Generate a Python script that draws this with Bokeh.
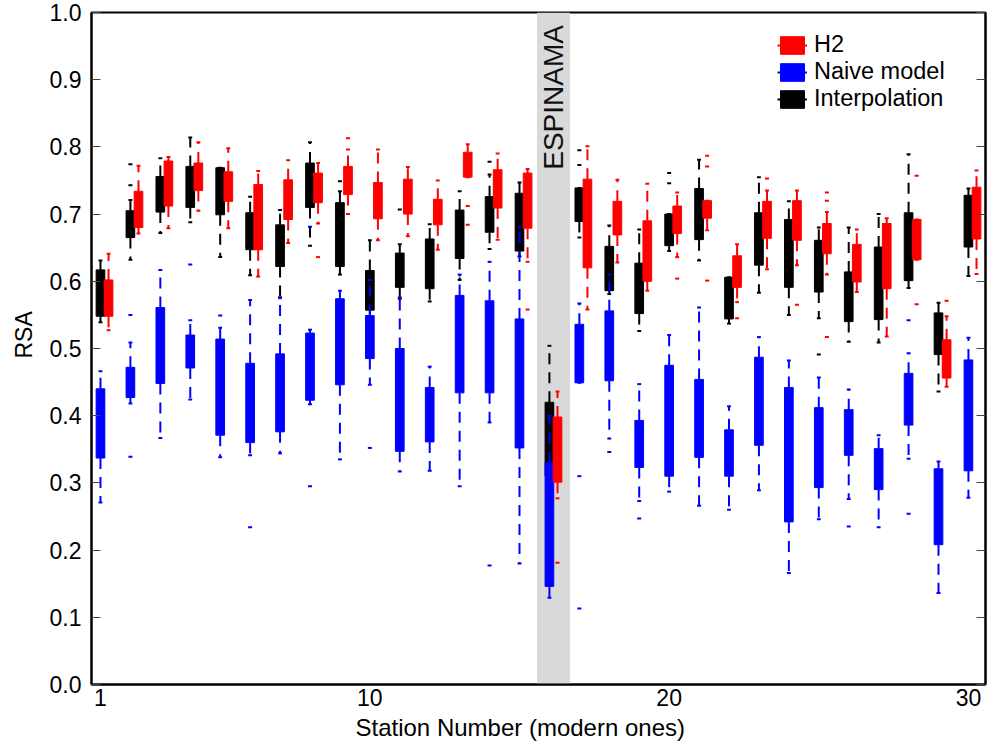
from math import pi
from bokeh.plotting import figure
from bokeh.models import (ColumnDataSource, FixedTicker, LinearAxis, Range1d, BoxAnnotation,
                          Legend, LegendItem, Title, PrintfTickFormatter, CustomJSTickFormatter)
from bokeh.core.properties import value
from bokeh.embed import file_html
from bokeh.resources import INLINE

# ---------------- data ----------------
stations = list(range(1, 31))
x_ticks = [1, 10, 20, 30]
y_ticks = [0.0, 0.1, 0.2, 0.3, 0.4, 0.5, 0.6, 0.7, 0.8, 0.9, 1.0]
espinama_station = 16

# Interpolation (black)
interp_q1 = [0.548, 0.665, 0.703, 0.710, 0.699, 0.647, 0.622, 0.710, 0.622, 0.557,
             0.591, 0.589, 0.634, 0.673, 0.645, 0.310, 0.689, 0.586, 0.552, 0.653,
             0.662, 0.544, 0.624, 0.591, 0.584, 0.540, 0.543, 0.601, 0.491, 0.651]
interp_q3 = [0.617, 0.705, 0.756, 0.771, 0.769, 0.702, 0.684, 0.776, 0.717, 0.616,
             0.642, 0.663, 0.706, 0.726, 0.731, 0.420, 0.739, 0.652, 0.627, 0.700,
             0.738, 0.606, 0.702, 0.692, 0.661, 0.614, 0.651, 0.702, 0.553, 0.728]
interp_lo = [0.539, 0.632, 0.672, 0.688, 0.636, 0.609, 0.576, 0.653, 0.610, 0.548,
             0.574, 0.570, 0.602, 0.648, 0.637, 0.290, 0.665, 0.581, 0.526, 0.645,
             0.631, 0.537, 0.583, 0.550, 0.545, 0.510, 0.509, 0.590, 0.436, 0.608]
interp_hi = [0.631, 0.721, 0.783, 0.814, 0.769, 0.726, 0.706, 0.807, 0.734, 0.661,
             0.655, 0.685, 0.734, 0.759, 0.747, 0.504, 0.739, 0.683, 0.677, 0.700,
             0.781, 0.606, 0.755, 0.719, 0.680, 0.680, 0.700, 0.789, 0.568, 0.738]
interp_out_station = [2, 2, 9, 11, 14, 17, 17, 20, 20, 25]
interp_out_value = [0.743, 0.774, 0.749, 0.707, 0.778, 0.773, 0.795, 0.746, 0.761, 0.491]

# Naive model (blue)
naive_q1 = [0.337, 0.427, 0.448, 0.471, 0.371, 0.360, 0.376, 0.423, 0.446, 0.485,
            0.347, 0.361, 0.434, 0.434, 0.352, 0.146, 0.449, 0.452, 0.323, 0.310,
            0.338, 0.310, 0.356, 0.242, 0.293, 0.341, 0.290, 0.386, 0.208, 0.318]
naive_q3 = [0.440, 0.472, 0.561, 0.520, 0.514, 0.478, 0.492, 0.523, 0.574, 0.549,
            0.500, 0.442, 0.579, 0.571, 0.544, 0.330, 0.536, 0.556, 0.393, 0.475,
            0.454, 0.379, 0.487, 0.442, 0.412, 0.409, 0.351, 0.463, 0.321, 0.483]
naive_lo = [0.271, 0.418, 0.367, 0.424, 0.338, 0.341, 0.344, 0.417, 0.335, 0.446,
            0.317, 0.318, 0.295, 0.390, 0.180, 0.129, 0.449, 0.366, 0.273, 0.287,
            0.266, 0.260, 0.289, 0.166, 0.246, 0.276, 0.234, 0.336, 0.136, 0.278]
naive_hi = [0.466, 0.509, 0.617, 0.542, 0.531, 0.572, 0.575, 0.528, 0.586, 0.602,
            0.576, 0.473, 0.610, 0.629, 0.680, 0.400, 0.567, 0.610, 0.447, 0.520,
            0.561, 0.414, 0.517, 0.482, 0.457, 0.439, 0.371, 0.493, 0.332, 0.516]
naive_out_station = [2, 2, 4, 5, 6, 8, 8, 10, 14, 17, 17, 18, 19, 26, 28, 28]
naive_out_value = [0.550, 0.339, 0.625, 0.549, 0.234, 0.295, 0.681, 0.352, 0.177,
                   0.310, 0.113, 0.346, 0.247, 0.235, 0.542, 0.254]

# H2 (red)
h2_q1 = [0.548, 0.680, 0.712, 0.735, 0.719, 0.647, 0.692, 0.717, 0.729, 0.693,
         0.700, 0.684, 0.755, 0.709, 0.679, 0.301, 0.620, 0.669, 0.600, 0.671,
         0.694, 0.591, 0.664, 0.661, 0.641, 0.599, 0.589, 0.632, 0.456, 0.663]
h2_q3 = [0.602, 0.734, 0.779, 0.776, 0.763, 0.744, 0.751, 0.761, 0.771, 0.747,
         0.752, 0.722, 0.792, 0.766, 0.761, 0.398, 0.752, 0.719, 0.690, 0.712,
         0.720, 0.638, 0.719, 0.720, 0.686, 0.655, 0.686, 0.692, 0.513, 0.740]
h2_lo = [0.527, 0.671, 0.679, 0.705, 0.679, 0.607, 0.657, 0.686, 0.700, 0.661,
         0.667, 0.647, 0.755, 0.662, 0.629, 0.277, 0.558, 0.628, 0.586, 0.636,
         0.676, 0.569, 0.618, 0.624, 0.610, 0.584, 0.518, 0.632, 0.443, 0.611]
h2_hi = [0.641, 0.772, 0.785, 0.807, 0.798, 0.764, 0.780, 0.776, 0.796, 0.796,
         0.770, 0.750, 0.804, 0.790, 0.767, 0.436, 0.801, 0.751, 0.745, 0.732,
         0.720, 0.655, 0.735, 0.735, 0.703, 0.677, 0.694, 0.692, 0.548, 0.765]
h2_out_station = [8, 9, 13, 13, 15, 16, 20, 21, 21, 21, 22, 23, 24, 25, 25, 25, 28, 28, 29]
h2_out_value = [0.636, 0.813, 0.712, 0.684, 0.558, 0.181, 0.604, 0.787, 0.771, 0.601,
                0.545, 0.753, 0.565, 0.732, 0.720, 0.517, 0.757, 0.566, 0.571]

# ---------------- styling ----------------
FONT = "Liberation Sans"
BOX_W = 0.29
CAP_W = 0.13
H2_OFFSET = 0.27

p = figure(width=987, height=747, title=None,
           x_range=Range1d(0.7, 30.57), y_range=Range1d(0, 1),
           output_backend="svg", toolbar_location=None,
           min_border_left=91, min_border_right=2, min_border_top=12, min_border_bottom=63)
p.background_fill_color = "white"
p.border_fill_color = "white"
p.xgrid.visible = False
p.ygrid.visible = False
p.outline_line_color = "black"
p.outline_line_width = 2
p.outline_line_alpha = 1

# grey band for ESPINAMA
band_center = espinama_station + H2_OFFSET / 2
p.add_layout(BoxAnnotation(left=band_center - 0.55, right=band_center + 0.55,
                           fill_color="#d9d9d9", fill_alpha=1, line_alpha=0, level="underlay"))
p.text(x=[band_center], y=[0.766], text=["ESPINAMA"], angle=pi / 2,
       text_align="left", text_baseline="middle", text_font=value(FONT),
       text_font_size="28px", text_color="#111111")


def add_series(q1, q3, lo, hi, out_st, out_val, offset, color):
    pos = [s + offset for s in stations]
    src = ColumnDataSource(dict(x=pos, q1=q1, q3=q3, lo=lo, hi=hi,
                                cl=[x - CAP_W / 2 for x in pos],
                                cr=[x + CAP_W / 2 for x in pos]))
    p.segment(x0="x", y0="q3", x1="x", y1="hi", source=src, line_color=color,
              line_width=2, line_dash="11 8")
    p.segment(x0="x", y0="q1", x1="x", y1="lo", source=src, line_color=color,
              line_width=2, line_dash="11 8")
    caps = p.segment(x0="cl", y0="hi", x1="cr", y1="hi", source=src,
                     line_color=color, line_width=2)
    p.segment(x0="cl", y0="lo", x1="cr", y1="lo", source=src,
              line_color=color, line_width=2)
    box = p.vbar(x="x", width=BOX_W, bottom="q1", top="q3", source=src,
                 fill_color=color, line_color=color, line_width=1)
    p.scatter(x=[s + offset for s in out_st], y=out_val, marker="dash", size=4,
              line_color=color, line_width=2)
    return caps, box


k_caps, k_box = add_series(interp_q1, interp_q3, interp_lo, interp_hi,
                           interp_out_station, interp_out_value, 0.0, "#000000")
b_caps, b_box = add_series(naive_q1, naive_q3, naive_lo, naive_hi,
                           naive_out_station, naive_out_value, 0.0, "#0000ff")
r_caps, r_box = add_series(h2_q1, h2_q3, h2_lo, h2_hi,
                           h2_out_station, h2_out_value, H2_OFFSET, "#ff0000")

legend = Legend(items=[LegendItem(label="H2", renderers=[r_caps, r_box]),
                       LegendItem(label="Naive model", renderers=[b_caps, b_box]),
                       LegendItem(label="Interpolation", renderers=[k_caps, k_box])],
                location=(686, 572), padding=0, margin=0, spacing=0,
                glyph_width=30, glyph_height=22, label_height=22, label_standoff=7,
                label_text_font=FONT, label_text_font_size="23.5px", label_text_color="black",
                border_line_alpha=0, background_fill_alpha=0)
p.add_layout(legend)

# axes
xa = p.xaxis[0]
xa.ticker = FixedTicker(ticks=x_ticks)
xa.major_tick_in = 0
xa.major_tick_out = 0
xa.minor_tick_line_color = None
xa.axis_line_width = 2
xa.axis_line_color = "black"
xa.major_label_standoff = 4
xa.major_label_text_font = FONT
xa.major_label_text_font_size = "23px"
xa.major_label_text_color = "black"

ya = p.yaxis[0]
ya.ticker = FixedTicker(ticks=y_ticks)
ya.formatter = PrintfTickFormatter(format="%.1f")
ya.major_tick_in = 9
ya.major_tick_out = 0
ya.major_tick_line_color = "#444444"
ya.major_tick_line_width = 1
ya.minor_tick_line_color = None
ya.axis_line_width = 2
ya.axis_line_color = "black"
ya.major_label_standoff = 10
ya.major_label_text_font = FONT
ya.major_label_text_font_size = "23px"
ya.major_label_text_color = "black"

ra = LinearAxis(ticker=FixedTicker(ticks=y_ticks),
                formatter=CustomJSTickFormatter(code="return ''"),
                major_tick_in=9, major_tick_out=0, major_label_standoff=0,
                major_tick_line_color="#444444", minor_tick_line_color=None,
                axis_line_width=2, axis_line_color="black")
p.add_layout(ra, "right")

# axis titles
p.add_layout(Title(text="Station Number (modern ones)", align="left", offset=264,
                   standoff=6, text_font=FONT, text_font_size="24px",
                   text_font_style="normal", text_color="black", vertical_align="bottom"),
             "below")
p.add_layout(Title(text="RSA", align="left", offset=326, standoff=15,
                   text_font=FONT, text_font_size="23px", text_font_style="normal",
                   text_color="black", vertical_align="top"),
             "left")

open("out.html", "w").write(file_html(p, INLINE))
